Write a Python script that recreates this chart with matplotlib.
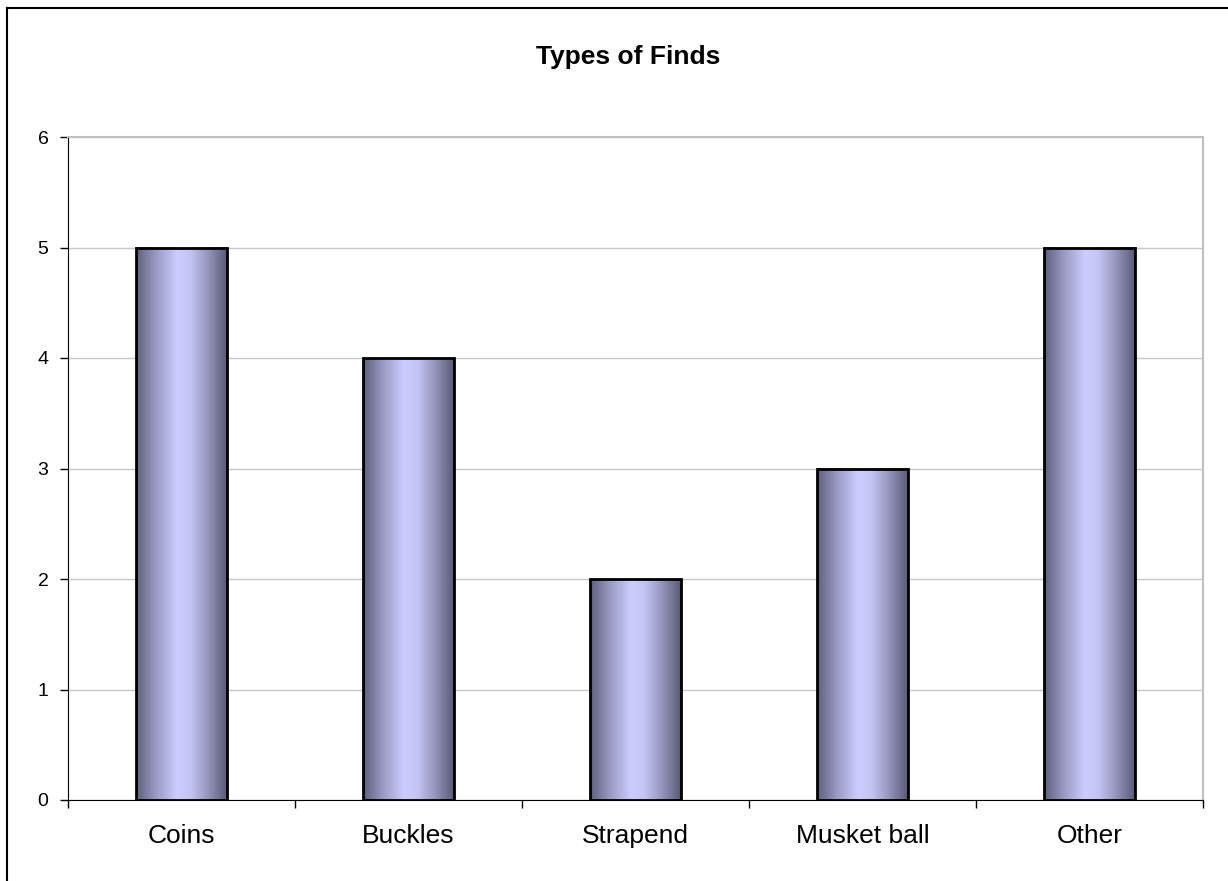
import numpy as np
import matplotlib
matplotlib.use('Agg')
import matplotlib.pyplot as plt
from matplotlib.colors import LinearSegmentedColormap
from matplotlib.patches import Rectangle

categories = ['Coins', 'Buckles', 'Strapend', 'Musket ball', 'Other']
counts = [5, 4, 2, 3, 5]

plt.rcParams['font.family'] = ['Liberation Sans', 'DejaVu Sans']

fig = plt.figure(figsize=(12.28, 8.81), dpi=100)
ax = fig.add_axes([68/1228, 81/881, (1203-68)/1228, (800-137)/881])

# excel-like gradient: dark sides, light middle
cmap = LinearSegmentedColormap.from_list('barfill', [
    (0.0, '#5e5e7c'), (0.22, '#9a9ac4'), (0.45, '#ccccff'),
    (0.6, '#c4c4f4'), (0.8, '#9393bb'), (1.0, '#5a5a76')])
grad = np.linspace(0, 1, 256).reshape(1, -1)

x = np.arange(len(categories))
width = 0.4
for xi, v in zip(x, counts):
    ax.imshow(grad, cmap=cmap, aspect='auto', interpolation='bicubic',
              extent=(xi - width/2, xi + width/2, 0, v), zorder=2)
    ax.add_patch(Rectangle((xi - width/2, 0), width, v, fill=False,
                           edgecolor='black', linewidth=2, zorder=3))

ax.set_xlim(-0.5, len(categories) - 0.5)
ax.set_ylim(0, 6)
ax.set_yticks(range(7))
ax.yaxis.grid(True, color='#c8c8c8', linewidth=1)
ax.set_axisbelow(True)

ax.set_xticks(x)
ax.set_xticklabels(categories, fontsize=19)
ax.tick_params(axis='x', length=0, pad=17)
ax.set_xticks(np.arange(-0.5, len(categories)), minor=True)
ax.tick_params(axis='x', which='minor', length=6, width=1)
ax.tick_params(axis='y', labelsize=14, length=6, width=1, pad=8)

for s in ['left', 'bottom']:
    ax.spines[s].set_color('black')
for s in ['top', 'right']:
    ax.spines[s].set_color('#c0c0c0')
    ax.spines[s].set_linewidth(1.5)

fig.text(628/1228, 1 - 57/881, 'Types of Finds', ha='center', va='center',
         fontsize=19, fontweight='bold')

# chart area border
fig.add_artist(plt.Line2D([7/1228, 7/1228], [0, 1 - 8/881], color='black',
                          linewidth=1.5, transform=fig.transFigure))
fig.add_artist(plt.Line2D([7/1228, 1], [1 - 8/881, 1 - 8/881], color='black',
                          linewidth=1.5, transform=fig.transFigure))

plt.savefig('out.png', dpi=100)
